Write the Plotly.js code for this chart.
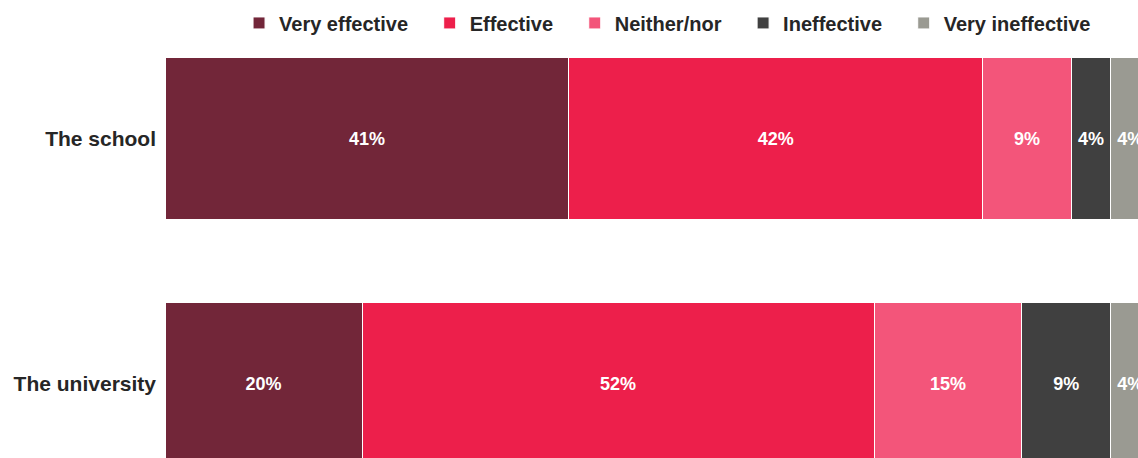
<!DOCTYPE html>
<html>
<head>
<meta charset="utf-8">
<script src="https://cdn.plot.ly/plotly-3.0.1.min.js"></script>
<style>html,body{margin:0;padding:0;background:#fff;}#chart{width:1138px;height:458px;}</style>
</head>
<body>
<div id="chart"></div>
<script>
var categories = ["The school", "The university"];
var seriesNames = ["Very effective", "Effective", "Neither/nor", "Ineffective", "Very ineffective"];
var veryEffective = [41, 20];
var effective = [42, 52];
var neitherNor = [9, 15];
var ineffective = [4, 9];
var veryIneffective = [4, 4];
var colors = ["#722639", "#ED1F4B", "#F3557A", "#404040", "#9A9A92"];

var values = [veryEffective, effective, neitherNor, ineffective, veryIneffective];
var FONT = "Liberation Sans, Arial, sans-serif";
var PAD = "\u00A0\u00A0\u00A0";
var traces = values.map(function (v, i) {
  return {
    type: "bar",
    orientation: "h",
    name: seriesNames[i] + (i < values.length - 1 ? PAD : ""),
    y: categories,
    x: v,
    text: v.map(function (d) { return d + "%"; }),
    textposition: "inside",
    insidetextanchor: "middle",
    constraintext: "none",
    textangle: 0,
    textfont: { family: FONT, size: 18, color: "#ffffff", weight: "bold" },
    marker: { color: colors[i], line: { color: "#ffffff", width: 1 } },
    hoverinfo: "name+x"
  };
});

var layout = {
  width: 1138,
  height: 458,
  barmode: "stack",
  bargap: 0.335,
  margin: { l: 165, r: 0, t: 16, b: 0, pad: 0 },
  paper_bgcolor: "#ffffff",
  plot_bgcolor: "#ffffff",
  font: { family: FONT, color: "#262626" },
  showlegend: true,
  legend: {
    orientation: "h",
    x: 0.0761,
    xanchor: "left",
    y: 0.9843,
    yanchor: "middle",
    font: { family: FONT, size: 20, color: "#262626", weight: "bold" },
    traceorder: "normal",
    bgcolor: "rgba(0,0,0,0)"
  },
  xaxis: {
    range: [0, 98.78],
    visible: false,
    fixedrange: true
  },
  yaxis: {
    type: "category",
    range: [1.304, -0.5],
    showgrid: false,
    zeroline: false,
    showline: false,
    ticks: "",
    ticklabelstandoff: 8,
    automargin: false,
    tickfont: { family: FONT, size: 21, color: "#262626", weight: "bold" }
  }
};

Plotly.newPlot("chart", traces, layout, { displayModeBar: false, staticPlot: true });
</script>
</body>
</html>
